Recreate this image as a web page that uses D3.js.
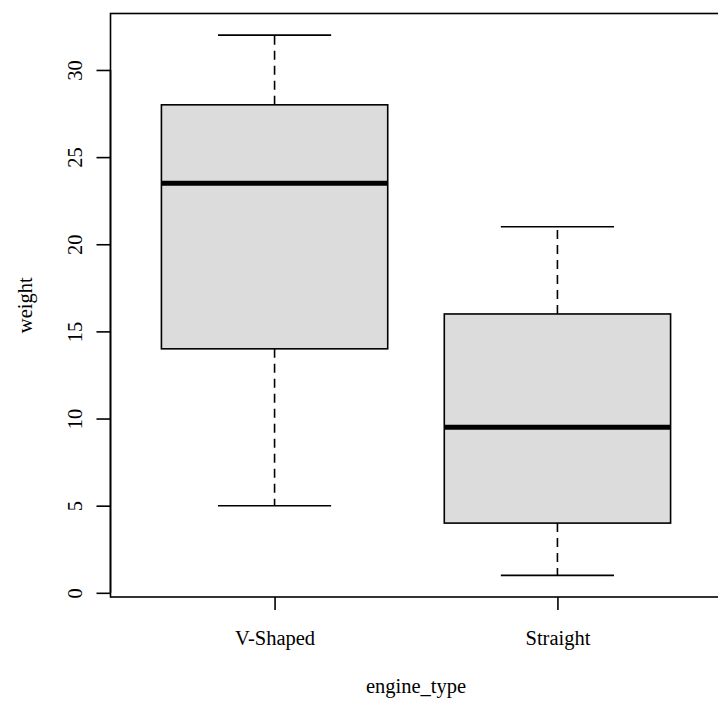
<!DOCTYPE html>
<html>
<head>
<script src="https://cdn.jsdelivr.net/npm/d3@7"></script>
<style>
  body { margin: 0; background: #fff; }
  text { font-family: "Liberation Serif", "Times New Roman", serif; font-size: 20.5px; fill: #000; }
</style>
</head>
<body>
<svg id="chart" width="718" height="704"></svg>
<script>
// box statistics per group (min, Q1, median, Q3, max)
var groups = ["V-Shaped", "Straight"];
var mins    = [5, 1];
var q1s     = [14, 4];
var medians = [23.5, 9.5];
var q3s     = [28, 16];
var maxs    = [32, 21];
var yTicks  = [0, 5, 10, 15, 20, 25, 30];

var svg = d3.select("#chart");

// R style extents: groups at 1..n, range padded by 4%
var x = d3.scaleLinear().domain([0.42, 2.58]).range([110.5, 721.5]);
var y = d3.scaleLinear().domain([-0.24, 33.24]).range([597, 13.5]);

var data = groups.map(function(g, i) {
  return { name: g, pos: i + 1, min: mins[i], q1: q1s[i], med: medians[i], q3: q3s[i], max: maxs[i] };
});

var lw = 1.6;
var boxes = svg.append("g").selectAll("g").data(data).enter().append("g");

// dashed whiskers, drawn from the box outwards
boxes.append("line")
    .attr("x1", function(d) { return x(d.pos); })
    .attr("x2", function(d) { return x(d.pos); })
    .attr("y1", function(d) { return y(d.q3); })
    .attr("y2", function(d) { return y(d.max); })
    .attr("stroke", "#000").attr("stroke-width", lw).attr("stroke-dasharray", "9,6");
boxes.append("line")
    .attr("x1", function(d) { return x(d.pos); })
    .attr("x2", function(d) { return x(d.pos); })
    .attr("y1", function(d) { return y(d.q1); })
    .attr("y2", function(d) { return y(d.min); })
    .attr("stroke", "#000").attr("stroke-width", lw).attr("stroke-dasharray", "9,6");

// whisker caps
["min", "max"].forEach(function(k) {
  boxes.append("line")
      .attr("x1", function(d) { return x(d.pos - 0.2); })
      .attr("x2", function(d) { return x(d.pos + 0.2); })
      .attr("y1", function(d) { return y(d[k]); })
      .attr("y2", function(d) { return y(d[k]); })
      .attr("stroke", "#000").attr("stroke-width", lw);
});

// the boxes
boxes.append("rect")
    .attr("x", function(d) { return x(d.pos - 0.4); })
    .attr("width", function(d) { return x(d.pos + 0.4) - x(d.pos - 0.4); })
    .attr("y", function(d) { return y(d.q3); })
    .attr("height", function(d) { return y(d.q1) - y(d.q3); })
    .attr("fill", "#dcdcdc").attr("stroke", "#000").attr("stroke-width", lw);

// medians
boxes.append("line")
    .attr("x1", function(d) { return x(d.pos - 0.4); })
    .attr("x2", function(d) { return x(d.pos + 0.4); })
    .attr("y1", function(d) { return y(d.med); })
    .attr("y2", function(d) { return y(d.med); })
    .attr("stroke", "#000").attr("stroke-width", 5);

// plot frame
svg.append("rect")
    .attr("x", x(0.42)).attr("y", y(33.24))
    .attr("width", x(2.58) - x(0.42)).attr("height", y(-0.24) - y(33.24))
    .attr("fill", "none").attr("stroke", "#000").attr("stroke-width", lw);

// y axis
var yAxis = svg.append("g")
    .attr("transform", "translate(" + x(0.42) + ",0)")
    .call(d3.axisLeft(y).tickValues(yTicks).tickSize(14).tickPadding(0).tickFormat(d3.format("d")));
yAxis.attr("font-size", null).attr("font-family", null);
yAxis.select(".domain").attr("d", "M0," + y(0) + "V" + y(30)).attr("stroke-width", lw);
yAxis.selectAll(".tick line").attr("stroke-width", lw);
yAxis.selectAll(".tick text")
    .attr("x", null).attr("dy", null)
    .attr("text-anchor", "middle")
    .attr("transform", "translate(-29,0) rotate(-90)");

// x axis
var xAxis = svg.append("g")
    .attr("transform", "translate(0," + y(-0.24) + ")")
    .call(d3.axisBottom(x).tickValues([1, 2]).tickSize(13).tickPadding(0)
      .tickFormat(function(d) { return groups[d - 1]; }));
xAxis.attr("font-size", null).attr("font-family", null);
xAxis.select(".domain").remove();
xAxis.selectAll(".tick line").attr("stroke-width", lw);
xAxis.selectAll(".tick text").attr("y", 48).attr("dy", null);
svg.selectAll(".tick text").attr("fill", "#000");

// axis titles
svg.append("text")
    .attr("x", x(1.5)).attr("y", 693)
    .attr("text-anchor", "middle")
    .text("engine_type");
svg.append("text")
    .attr("transform", "translate(32," + y(16.5) + ") rotate(-90)")
    .attr("text-anchor", "middle")
    .text("weight");
</script>
</body>
</html>
